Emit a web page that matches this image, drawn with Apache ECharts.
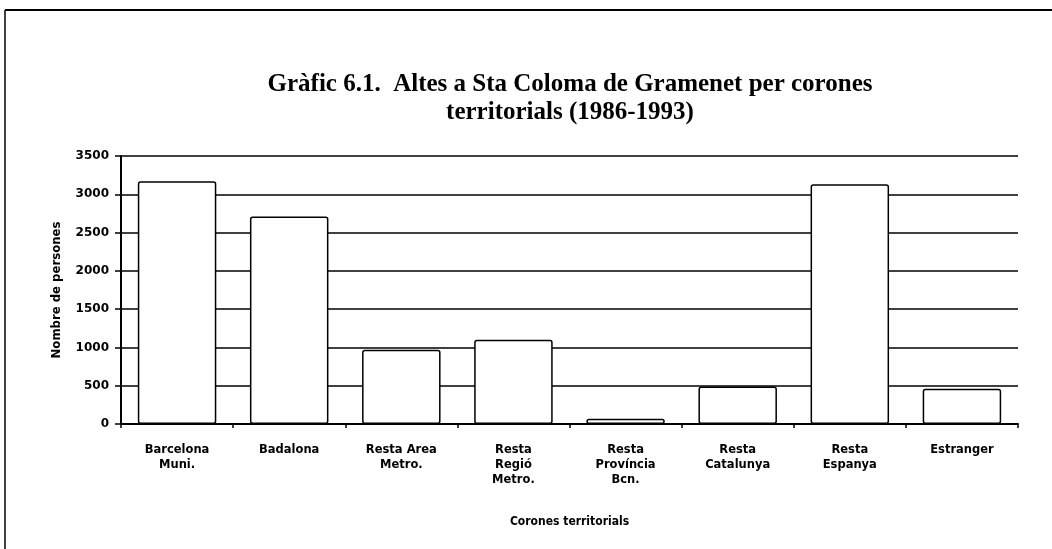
<!DOCTYPE html>
<html>
<head>
<meta charset="utf-8">
<script src="https://cdn.jsdelivr.net/npm/echarts@6/dist/echarts.min.js"></script>
<style>
  html, body { margin: 0; padding: 0; background: #fff; }
  #chart { width: 1052px; height: 549px; }
</style>
</head>
<body>
<div id="chart"></div>
<script>
const categories = [
  'Barcelona\nMuni.',
  'Badalona',
  'Resta Area\nMetro.',
  'Resta\nRegió\nMetro.',
  'Resta\nProvíncia\nBcn.',
  'Resta\nCatalunya',
  'Resta\nEspanya',
  'Estranger'
]
const altes = [3170, 2710, 970, 1100, 70, 490, 3130, 460]
const yTicks = [0, 500, 1000, 1500, 2000, 2500, 3000, 3500]

const chart = echarts.init(document.getElementById('chart'))
const labelFont = '"DejaVu Sans", sans-serif'
const condFont = '"DejaVu Sans Condensed", "DejaVu Sans", sans-serif'

chart.setOption({
  animation: false,
  backgroundColor: '#fff',
  title: {
    text: 'Gràfic 6.1.  Altes a Sta Coloma de Gramenet per corones\nterritorials (1986-1993)',
    left: 565,
    top: 66,
    textAlign: 'center',
    textStyle: {
      fontFamily: '"Liberation Serif", serif',
      fontWeight: 'bold',
      fontSize: 25,
      lineHeight: 28,
      color: '#000'
    }
  },
  graphic: [
    { type: 'line', shape: { x1: 5, y1: 10, x2: 1052, y2: 10 }, style: { stroke: '#000', lineWidth: 2 } },
    { type: 'line', shape: { x1: 5, y1: 10, x2: 5, y2: 549 }, style: { stroke: '#000', lineWidth: 1.5 } }
  ],
  grid: { left: 121, right: 34, top: 156, bottom: 125 },
  xAxis: {
    type: 'category',
    data: categories,
    name: 'Corones territorials',
    nameLocation: 'middle',
    nameGap: 92,
    nameTextStyle: { fontFamily: condFont, fontWeight: 'bold', fontSize: 12, color: '#000' },
    axisLine: { lineStyle: { color: '#000', width: 2 } },
    axisTick: { show: true, length: 4, lineStyle: { color: '#000', width: 1.5 } },
    axisLabel: {
      interval: 0,
      margin: 19,
      fontFamily: labelFont,
      fontWeight: 'bold',
      fontSize: 11.5,
      lineHeight: 15,
      color: '#000'
    }
  },
  yAxis: {
    type: 'value',
    min: 0,
    max: 3500,
    interval: 500,
    name: 'Nombre de persones',
    nameLocation: 'middle',
    nameGap: 58,
    nameTextStyle: { fontFamily: condFont, fontWeight: 'bold', fontSize: 13, color: '#000' },
    axisLine: { show: true, lineStyle: { color: '#000', width: 2 } },
    axisTick: { show: true, length: 6, lineStyle: { color: '#000', width: 1.5 } },
    axisLabel: {
      margin: 12,
      fontFamily: labelFont,
      fontWeight: 'bold',
      fontSize: 12,
      color: '#000',
      formatter: v => yTicks.includes(v) ? String(v) : ''
    },
    splitLine: { show: true, lineStyle: { color: '#000', width: 1.5 } }
  },
  series: [
    {
      type: 'bar',
      data: altes,
      barWidth: '70%',
      itemStyle: {
        color: '#fff',
        borderColor: '#000',
        borderWidth: 1.5,
        borderRadius: 2
      }
    }
  ]
})
</script>
</body>
</html>
